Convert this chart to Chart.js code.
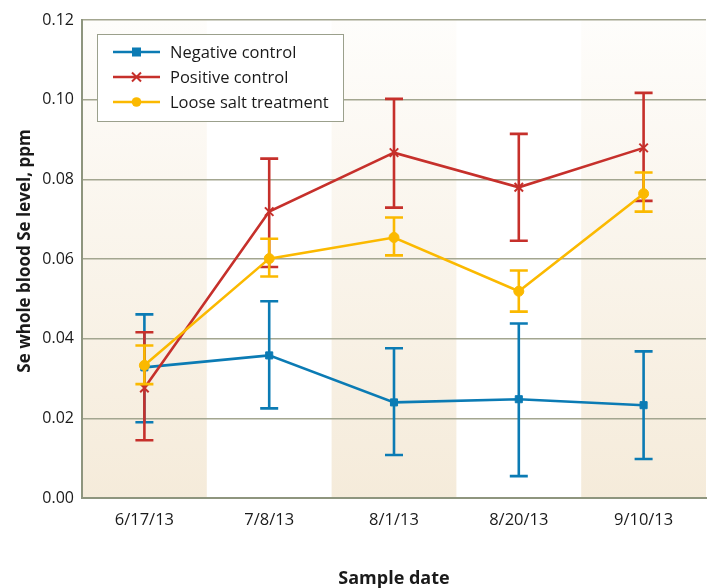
<!DOCTYPE html>
<html>
<head>
<meta charset="utf-8">
<script src="https://cdn.jsdelivr.net/npm/chart.js@4"></script>
<style>
    html, body { margin: 0; padding: 0; background: #fff; }
    #wrap { width: 707px; height: 588px; }
</style>
</head>
<body>
<div id="wrap"><canvas id="seChart" width="707" height="588"></canvas></div>
<script>
// Dados
const sampleDates = ['6/17/13', '7/8/13', '8/1/13', '8/20/13', '9/10/13'];
const yTicks = [0, 0.02, 0.04, 0.06, 0.08, 0.10, 0.12];

const negativeMean = [0.0328, 0.0358, 0.0240, 0.0248, 0.0233];
const negativeLow  = [0.0190, 0.0225, 0.0108, 0.0055, 0.0098];
const negativeHigh = [0.0461, 0.0494, 0.0376, 0.0438, 0.0368];

const positiveMean = [0.0276, 0.0719, 0.0867, 0.0780, 0.0879];
const positiveLow  = [0.0145, 0.0580, 0.0729, 0.0646, 0.0746];
const positiveHigh = [0.0416, 0.0852, 0.1002, 0.0914, 0.1017];

const looseMean = [0.0333, 0.0601, 0.0654, 0.0519, 0.0764];
const looseLow  = [0.0286, 0.0556, 0.0609, 0.0468, 0.0719];
const looseHigh = [0.0383, 0.0651, 0.0704, 0.0571, 0.0817];

const BLUE = '#0b7bb4';
const RED = '#c6302b';
const YELLOW = '#fbb900';
const FONT = '"Open Sans", sans-serif';

// Faixas bege alternadas atrás do gráfico
const bandsPlugin = {
    id: 'bands',
    beforeDraw(chart) {
        const { ctx, chartArea, scales } = chart;
        const x = scales.x;
        const w = (chartArea.right - chartArea.left) / sampleDates.length;
        const grad = ctx.createLinearGradient(0, chartArea.bottom, 0, chartArea.top);
        grad.addColorStop(0, '#f5ebda');
        grad.addColorStop(1, '#fefdfb');
        ctx.save();
        ctx.fillStyle = grad;
        for (let i = 0; i < sampleDates.length; i += 2) {
            const cx = x.getPixelForValue(i);
            ctx.fillRect(cx - w / 2, chartArea.top, w, chartArea.bottom - chartArea.top);
        }
        ctx.restore();
    }
};

// Barras de erro
const errorBarsPlugin = {
    id: 'errorBars',
    afterDatasetDraw(chart, args) {
        const ds = chart.data.datasets[args.index];
        if (!ds.errLow) return;
        const { ctx, scales } = chart;
        ctx.save();
        ctx.strokeStyle = ds.borderColor;
        ctx.lineWidth = 2.6;
        for (let i = 0; i < ds.data.length; i++) {
            const px = scales.x.getPixelForValue(i);
            const yl = scales.y.getPixelForValue(ds.errLow[i]);
            const yh = scales.y.getPixelForValue(ds.errHigh[i]);
            ctx.beginPath();
            ctx.moveTo(px, yh); ctx.lineTo(px, yl);
            ctx.moveTo(px - 9, yh); ctx.lineTo(px + 9, yh);
            ctx.moveTo(px - 9, yl); ctx.lineTo(px + 9, yl);
            ctx.stroke();
        }
        ctx.restore();
    }
};

// Legenda e títulos dos eixos
const decorPlugin = {
    id: 'decor',
    afterDraw(chart) {
        const { ctx, chartArea } = chart;
        ctx.save();
        // legenda
        const bx = 97, by = 34, bw = 246, bh = 87;
        ctx.fillStyle = '#fff';
        ctx.fillRect(bx, by, bw, bh);
        ctx.strokeStyle = '#9ba08c';
        ctx.lineWidth = 1;
        ctx.strokeRect(bx + 0.5, by + 0.5, bw, bh);
        const rows = [
            { label: 'Negative control', color: BLUE, style: 'rect', y: 52 },
            { label: 'Positive control', color: RED, style: 'cross', y: 77 },
            { label: 'Loose salt treatment', color: YELLOW, style: 'circle', y: 102 }
        ];
        ctx.font = '16.5px ' + FONT;
        ctx.textBaseline = 'middle';
        rows.forEach(r => {
            ctx.strokeStyle = r.color;
            ctx.fillStyle = r.color;
            ctx.lineWidth = 2.6;
            ctx.beginPath();
            ctx.moveTo(113, r.y); ctx.lineTo(160, r.y);
            ctx.stroke();
            if (r.style === 'rect') {
                ctx.fillRect(132, r.y - 4.5, 9, 9);
            } else if (r.style === 'circle') {
                ctx.beginPath();
                ctx.arc(136.5, r.y, 4.8, 0, Math.PI * 2);
                ctx.fill();
            } else {
                ctx.lineWidth = 2;
                ctx.beginPath();
                ctx.moveTo(132, r.y - 4.5); ctx.lineTo(141, r.y + 4.5);
                ctx.moveTo(141, r.y - 4.5); ctx.lineTo(132, r.y + 4.5);
                ctx.stroke();
            }
            ctx.fillStyle = '#1a1a1a';
            ctx.fillText(r.label, 170, r.y + 1);
        });
        // títulos dos eixos
        ctx.fillStyle = '#1a1a1a';
        ctx.font = 'bold 18px ' + FONT;
        ctx.textAlign = 'center';
        ctx.textBaseline = 'alphabetic';
        ctx.fillText('Sample date', (chartArea.left + chartArea.right) / 2, 584);
        ctx.font = 'bold 17px ' + FONT;
        ctx.translate(30, 251);
        ctx.rotate(-Math.PI / 2);
        ctx.fillText('Se whole blood Se level, ppm', 0, 0);
        ctx.restore();
    }
};

function makeDataset(label, data, low, high, color, pointStyle, order) {
    return {
        label: label,
        data: data,
        errLow: low,
        errHigh: high,
        borderColor: color,
        backgroundColor: color,
        borderWidth: 2.6,
        pointStyle: pointStyle,
        pointRadius: pointStyle === 'crossRot' ? 6 : 5,
        pointBorderWidth: pointStyle === 'crossRot' ? 2 : 1,
        pointBorderColor: color,
        pointBackgroundColor: color,
        tension: 0,
        fill: false,
        order: order
    };
}

const ctx = document.getElementById('seChart').getContext('2d');
new Chart(ctx, {
    type: 'line',
    data: {
        labels: sampleDates,
        datasets: [
            makeDataset('Negative control', negativeMean, negativeLow, negativeHigh, BLUE, 'rect', 3),
            makeDataset('Positive control', positiveMean, positiveLow, positiveHigh, RED, 'crossRot', 2),
            makeDataset('Loose salt treatment', looseMean, looseLow, looseHigh, YELLOW, 'circle', 1)
        ]
    },
    options: {
        responsive: false,
        animation: false,
        layout: { autoPadding: false, padding: { top: 20, right: 1, left: 0, bottom: 0 } },
        plugins: {
            legend: { display: false },
            tooltip: { enabled: false }
        },
        scales: {
            x: {
                offset: true,
                grid: { display: false, drawTicks: false },
                border: { color: '#8e957e', width: 2 },
                ticks: { color: '#1a1a1a', font: { family: FONT, size: 16.5 }, padding: 12 },
                afterFit(scale) { scale.height = 90; }
            },
            y: {
                min: 0,
                max: 0.12,
                afterBuildTicks(scale) { scale.ticks = yTicks.map(v => ({ value: v })); },
                grid: { color: '#a3a690', lineWidth: 1.5, drawTicks: false },
                border: { color: '#8e957e', width: 2 },
                ticks: {
                    color: '#1a1a1a',
                    font: { family: FONT, size: 16 },
                    padding: 8,
                    callback: v => v.toFixed(2)
                },
                afterFit(scale) { scale.width = 82; }
            }
        }
    },
    plugins: [bandsPlugin, errorBarsPlugin, decorPlugin]
});
</script>
</body>
</html>
